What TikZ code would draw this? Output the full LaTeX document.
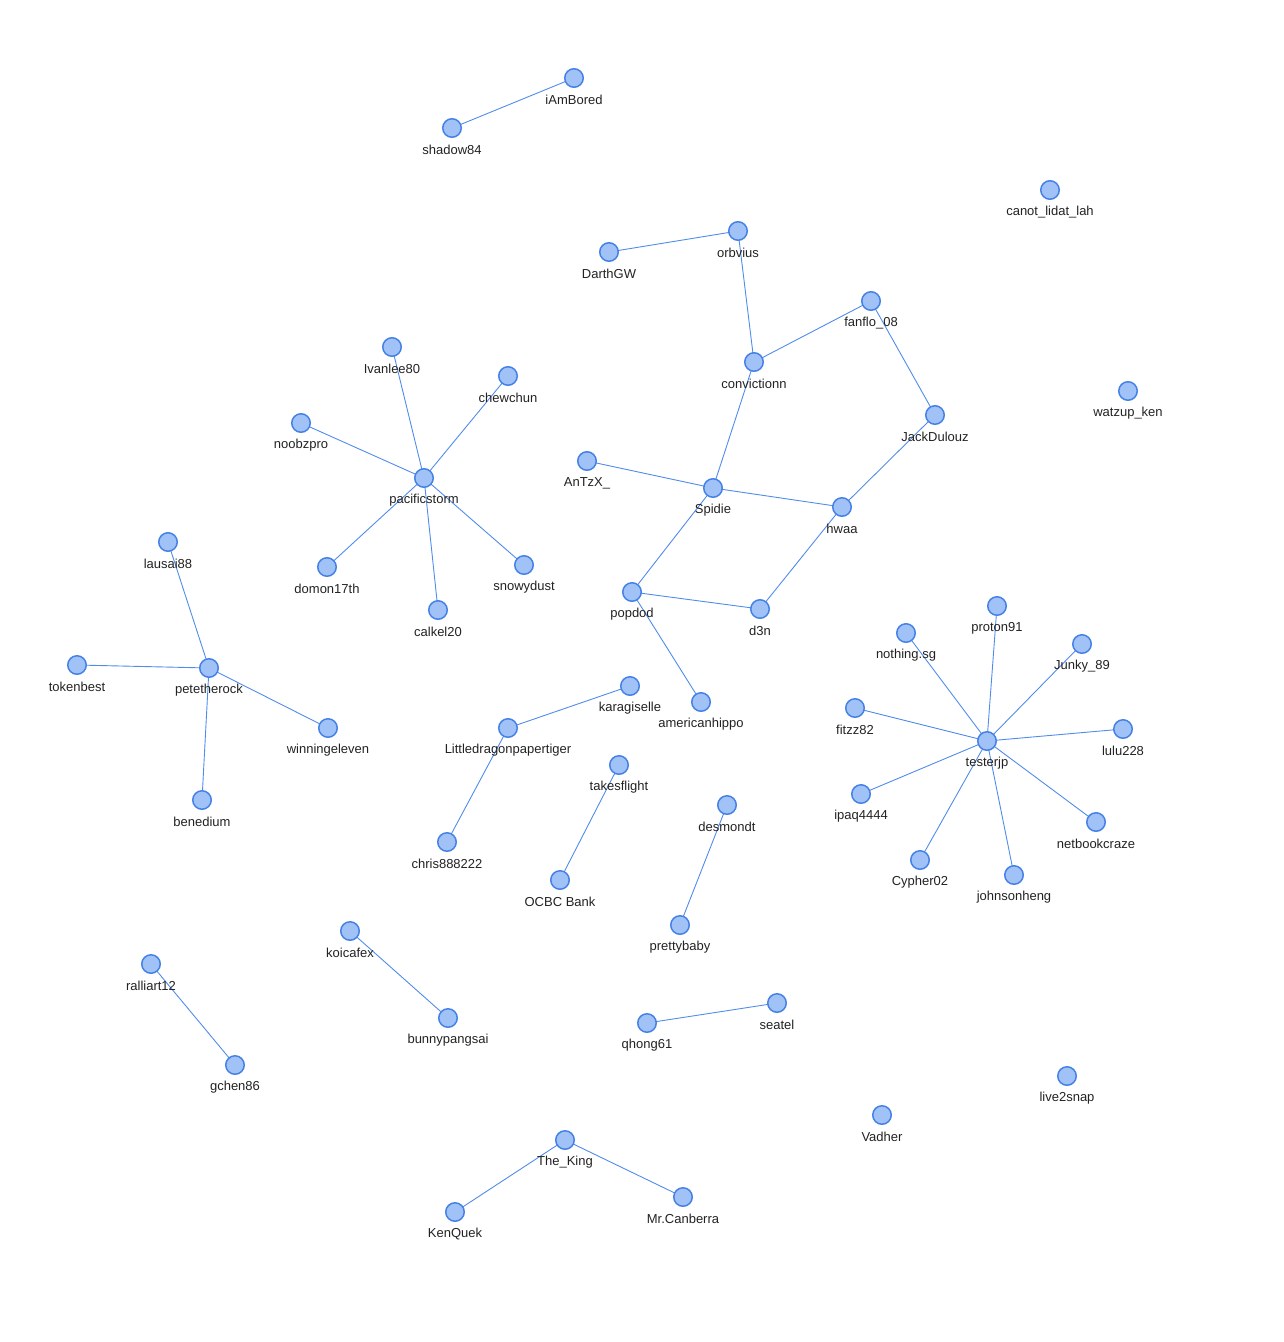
\documentclass[tikz,border=0pt]{standalone}
\usepackage{fontspec}
\setmainfont{Liberation Sans}
\usetikzlibrary{backgrounds}
\definecolor{nodefill}{RGB}{160,194,246}
\definecolor{nodeline}{RGB}{70,130,230}
\definecolor{edgeline}{RGB}{80,140,235}
\definecolor{labeltext}{RGB}{34,34,34}
\tikzset{
  vert/.style={circle,draw=nodeline,fill=nodefill,line width=1.5pt,minimum size=18.5pt,inner sep=0pt},
  vlabel/.style={text=labeltext,font=\fontsize{13}{15}\selectfont,inner sep=0pt,anchor=center,yshift=-22pt},
  link/.style={edgeline,line width=0.9pt}
}
\begin{document}
\begin{tikzpicture}[x=1pt,y=-1pt]
\useasboundingbox (0,0) rectangle (1284,1342);
\newcommand{\vx}[3]{\node[vert] (#1) at (#2) {}; \node[vlabel] (#1-l) at (#1.center) {#3};}
\vx{iAmBored}{574,78}{iAmBored}
\vx{shadow}{452,128}{shadow84}
\vx{canot}{1050,190}{canot\_lidat\_lah}
\vx{orbvius}{738,231}{orbvius}
\vx{DarthGW}{609,252}{DarthGW}
\vx{fanflo}{871,301}{fanflo\_08}
\vx{Ivanlee}{392,347}{Ivanlee80}
\vx{conv}{754,362}{convictionn}
\vx{chewchun}{508,376}{chewchun}
\vx{watzup}{1128,391}{watzup\_ken}
\vx{Jack}{935,415}{JackDulouz}
\vx{noobzpro}{301,423}{noobzpro}
\vx{AnTzX}{587,461}{AnTzX\_}
\vx{pacific}{424,478}{pacificstorm}
\vx{Spidie}{713,488}{Spidie}
\vx{hwaa}{842,507}{hwaa}
\vx{lausai}{168,542}{lausai88}
\vx{domon}{327,567}{domon17th}
\vx{snowy}{524,565}{snowydust}
\vx{popdod}{632,592}{popdod}
\vx{dthreen}{760,609}{d3n}
\vx{calkel}{438,610}{calkel20}
\vx{proton}{997,606}{proton91}
\vx{nothing}{906,633}{nothing.sg}
\vx{Junky}{1082,644}{Junky\_89}
\vx{tokenbest}{77,665}{tokenbest}
\vx{pete}{209,668}{petetherock}
\vx{karag}{630,686}{karagiselle}
\vx{hippo}{701,702}{americanhippo}
\vx{fitzz}{855,708}{fitzz82}
\vx{little}{508,728}{Littledragonpapertiger}
\vx{winning}{328,728}{winningeleven}
\vx{lulu}{1123,729}{lulu228}
\vx{tester}{987,741}{testerjp}
\vx{takes}{619,765}{takesflight}
\vx{ipaq}{861,794}{ipaq4444}
\vx{benedium}{202,800}{benedium}
\vx{desmondt}{727,805}{desmondt}
\vx{netbook}{1096,822}{netbookcraze}
\vx{chris}{447,842}{chris888222}
\vx{cypher}{920,860}{Cypher02}
\vx{johnson}{1014,875}{johnsonheng}
\vx{ocbc}{560,880}{OCBC Bank}
\vx{pretty}{680,925}{prettybaby}
\vx{koica}{350,931}{koicafex}
\vx{ralli}{151,964}{ralliart12}
\vx{seatel}{777,1003}{seatel}
\vx{bunny}{448,1018}{bunnypangsai}
\vx{qhong}{647,1023}{qhong61}
\vx{gchen}{235,1065}{gchen86}
\vx{live}{1067,1076}{live2snap}
\vx{vadher}{882,1115}{Vadher}
\vx{king}{565,1140}{The\_King}
\vx{canberra}{683,1197}{Mr.Canberra}
\vx{kenquek}{455,1212}{KenQuek}
\begin{scope}[on background layer]
\foreach \a/\b in {iAmBored/shadow, orbvius/DarthGW, orbvius/conv, conv/fanflo, fanflo/Jack, Jack/hwaa,
  conv/Spidie, Spidie/AnTzX, Spidie/hwaa, Spidie/popdod, hwaa/dthreen, popdod/dthreen, popdod/hippo,
  pacific/Ivanlee, pacific/chewchun, pacific/noobzpro, pacific/domon, pacific/calkel, pacific/snowy,
  pete/lausai, pete/tokenbest, pete/winning, pete/benedium,
  little/karag, little/chris, takes/ocbc, desmondt/pretty,
  tester/proton, tester/nothing, tester/Junky, tester/fitzz, tester/lulu, tester/ipaq, tester/netbook, tester/cypher, tester/johnson,
  koica/bunny, ralli/gchen, seatel/qhong, king/kenquek, king/canberra}
  \draw[link] (\a.center) -- (\b.center);
\end{scope}
\end{tikzpicture}
\end{document}
